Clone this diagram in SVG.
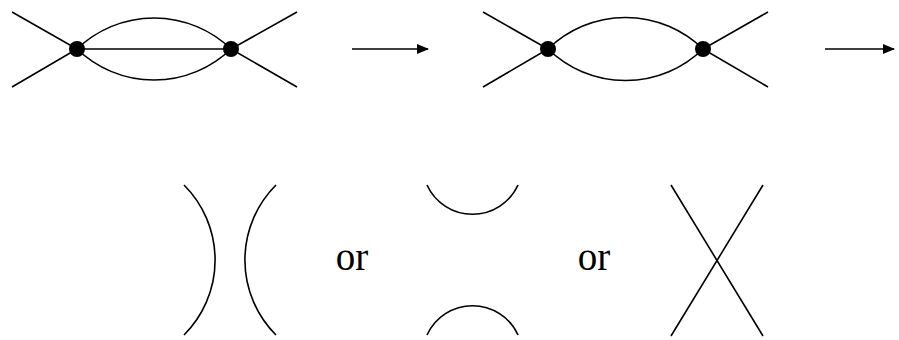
<svg xmlns="http://www.w3.org/2000/svg" width="899" height="340" viewBox="0 0 899 340">
<defs>
<style>
.l{fill:none;stroke:#000;stroke-width:1.6}
.v{fill:#000}
.t{font-family:"Liberation Serif","DejaVu Serif",serif;font-size:39px;fill:#000}
</style>
<marker id="ah" markerWidth="12" markerHeight="10" refX="11" refY="5" orient="auto" markerUnits="userSpaceOnUse">
<path d="M0,0 L12,5 L0,10 Z" fill="#000"/>
</marker>
</defs>
<g id="diagram1">
<path class="l" d="M12,12 L77,49 L12,87 M297,12 L231,49 L297,87 M77,49 L231,49"/>
<path class="l" d="M77,49 A111,111 0 0 1 231,49 M77,49 A111,111 0 0 0 231,49"/>
<circle class="v" cx="77" cy="49" r="8"/>
<circle class="v" cx="231" cy="49" r="8"/>
</g>
<g id="diagram2">
<path class="l" d="M483,12 L548,49 L483,87 M768,12 L703,49 L768,87"/>
<path class="l" d="M548,49 A111,111 0 0 1 703,49 M548,49 A111,111 0 0 0 703,49"/>
<circle class="v" cx="548" cy="49" r="8"/>
<circle class="v" cx="703" cy="49" r="8"/>
</g>
<g id="connectors">
<line class="l" x1="352" y1="49" x2="428" y2="49" marker-end="url(#ah)"/>
<line class="l" x1="825" y1="49" x2="894" y2="49" marker-end="url(#ah)"/>
</g>
<g id="option1">
<path class="l" d="M184,185 A106,106 0 0 1 184,335"/>
<path class="l" d="M276,185 A106,106 0 0 0 276,335"/>
</g>
<text class="t" x="352" y="270" text-anchor="middle">or</text>
<g id="option2">
<path class="l" d="M427,185 A50,50 0 0 0 518,185"/>
<path class="l" d="M427,335 A50,50 0 0 1 518,335"/>
</g>
<text class="t" x="594" y="270" text-anchor="middle">or</text>
<g id="option3">
<path class="l" d="M671,185 L763,336 M763,185 L671,336"/>
</g>
</svg>
